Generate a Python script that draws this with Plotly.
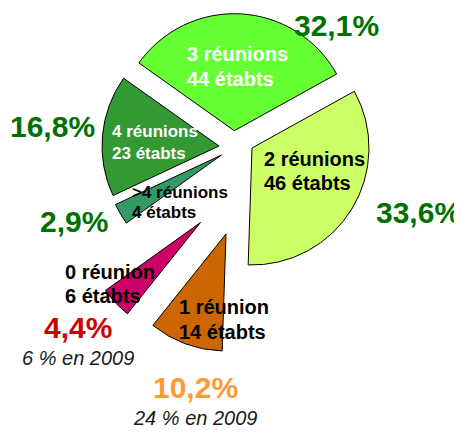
import plotly.graph_objects as go

# ---- data ----
categories = ["2 réunions", "1 réunion", "0 réunion", ">4 réunions", "4 réunions", "3 réunions"]
etabs = [46, 14, 6, 4, 23, 44]
pct_2009 = [None, 24, 6, None, None, None]

# ---- style / layout ----
WIN_W, WIN_H = 462, 434
OFF = 8  # default page margin around the plot div
W, H = WIN_W - OFF, WIN_H - OFF
R = 117
colors = ["#CCFF66", "#CC6600", "#CC0066", "#339966", "#339933", "#66FF33"]
label_colors = ["black", "black", "black", "black", "white", "white"]
label_sizes = [20, 20, 20, 17, 17, 20]
pct_colors = ["#007000", "#FF9933", "#CC0000", "#007000", "#007000", "#007000"]
# apex (pie centre) of each exploded slice, in window pixels
slice_centres = [(252, 148), (226, 234), (200.5, 222.5), (221.5, 155), (219, 146), (234.3, 130.7)]
# label positions: (left x, first-line y, line gap)
label_pos = [(262, 159, 24), (177, 307, 25), (63, 272, 24), (130, 193, 20), (110, 132, 21), (185, 54, 25)]
pct_pos = [(418, 212), (195, 387.5), (77.5, 327.5), (74, 221), (52, 126), (336, 25.5)]
note_pos = [None, (195, 418), (78, 358), None, None, None]

FONT = "Liberation Sans, Arial, sans-serif"
total = sum(etabs)
n = len(etabs)


def px(x):
    return (x - OFF) / W


def py(y):
    return 1 - (y - OFF) / H


fig = go.Figure()
for i in range(n):
    cx, cy = slice_centres[i]
    cols = [colors[j] if j == i else "rgba(0,0,0,0)" for j in range(n)]
    lw = [1 if j == i else 0 for j in range(n)]
    fig.add_trace(go.Pie(
        values=etabs, labels=categories, sort=False, direction="clockwise",
        rotation=61, textinfo="none", hoverinfo="skip", showlegend=False,
        marker=dict(colors=cols, line=dict(color="black", width=lw)),
        domain=dict(x=[px(cx - R), px(cx + R)], y=[py(cy + R), py(cy - R)]),
    ))

annotations = []
for i in range(n):
    lx, ly, gap = label_pos[i]
    for k, txt in enumerate([categories[i], f"{etabs[i]} étabts"]):
        annotations.append(dict(
            x=px(lx), y=py(ly + k * gap), xref="paper", yref="paper",
            text=f"<b>{txt}</b>", showarrow=False, xanchor="left", yanchor="middle",
            font=dict(family=FONT, size=label_sizes[i], color=label_colors[i])))
    pct = f"{etabs[i] / total * 100:.1f}".replace(".", ",") + "%"
    ax, ay = pct_pos[i]
    annotations.append(dict(
        x=px(ax), y=py(ay), xref="paper", yref="paper", text=f"<b>{pct}</b>",
        showarrow=False, xanchor="center", yanchor="middle", borderpad=0,
        font=dict(family=FONT, size=30, color=pct_colors[i])))
    if pct_2009[i] is not None:
        nx, ny = note_pos[i]
        annotations.append(dict(
            x=px(nx), y=py(ny), xref="paper", yref="paper",
            text=f"<i>{pct_2009[i]} % en 2009</i>",
            showarrow=False, xanchor="center", yanchor="middle",
            font=dict(family=FONT, size=20, color="#1a1a1a")))

fig.update_layout(
    width=W, height=H, margin=dict(l=0, r=0, t=0, b=0),
    paper_bgcolor="white", plot_bgcolor="white",
    annotations=annotations,
)

fig.write_html("out.html")
